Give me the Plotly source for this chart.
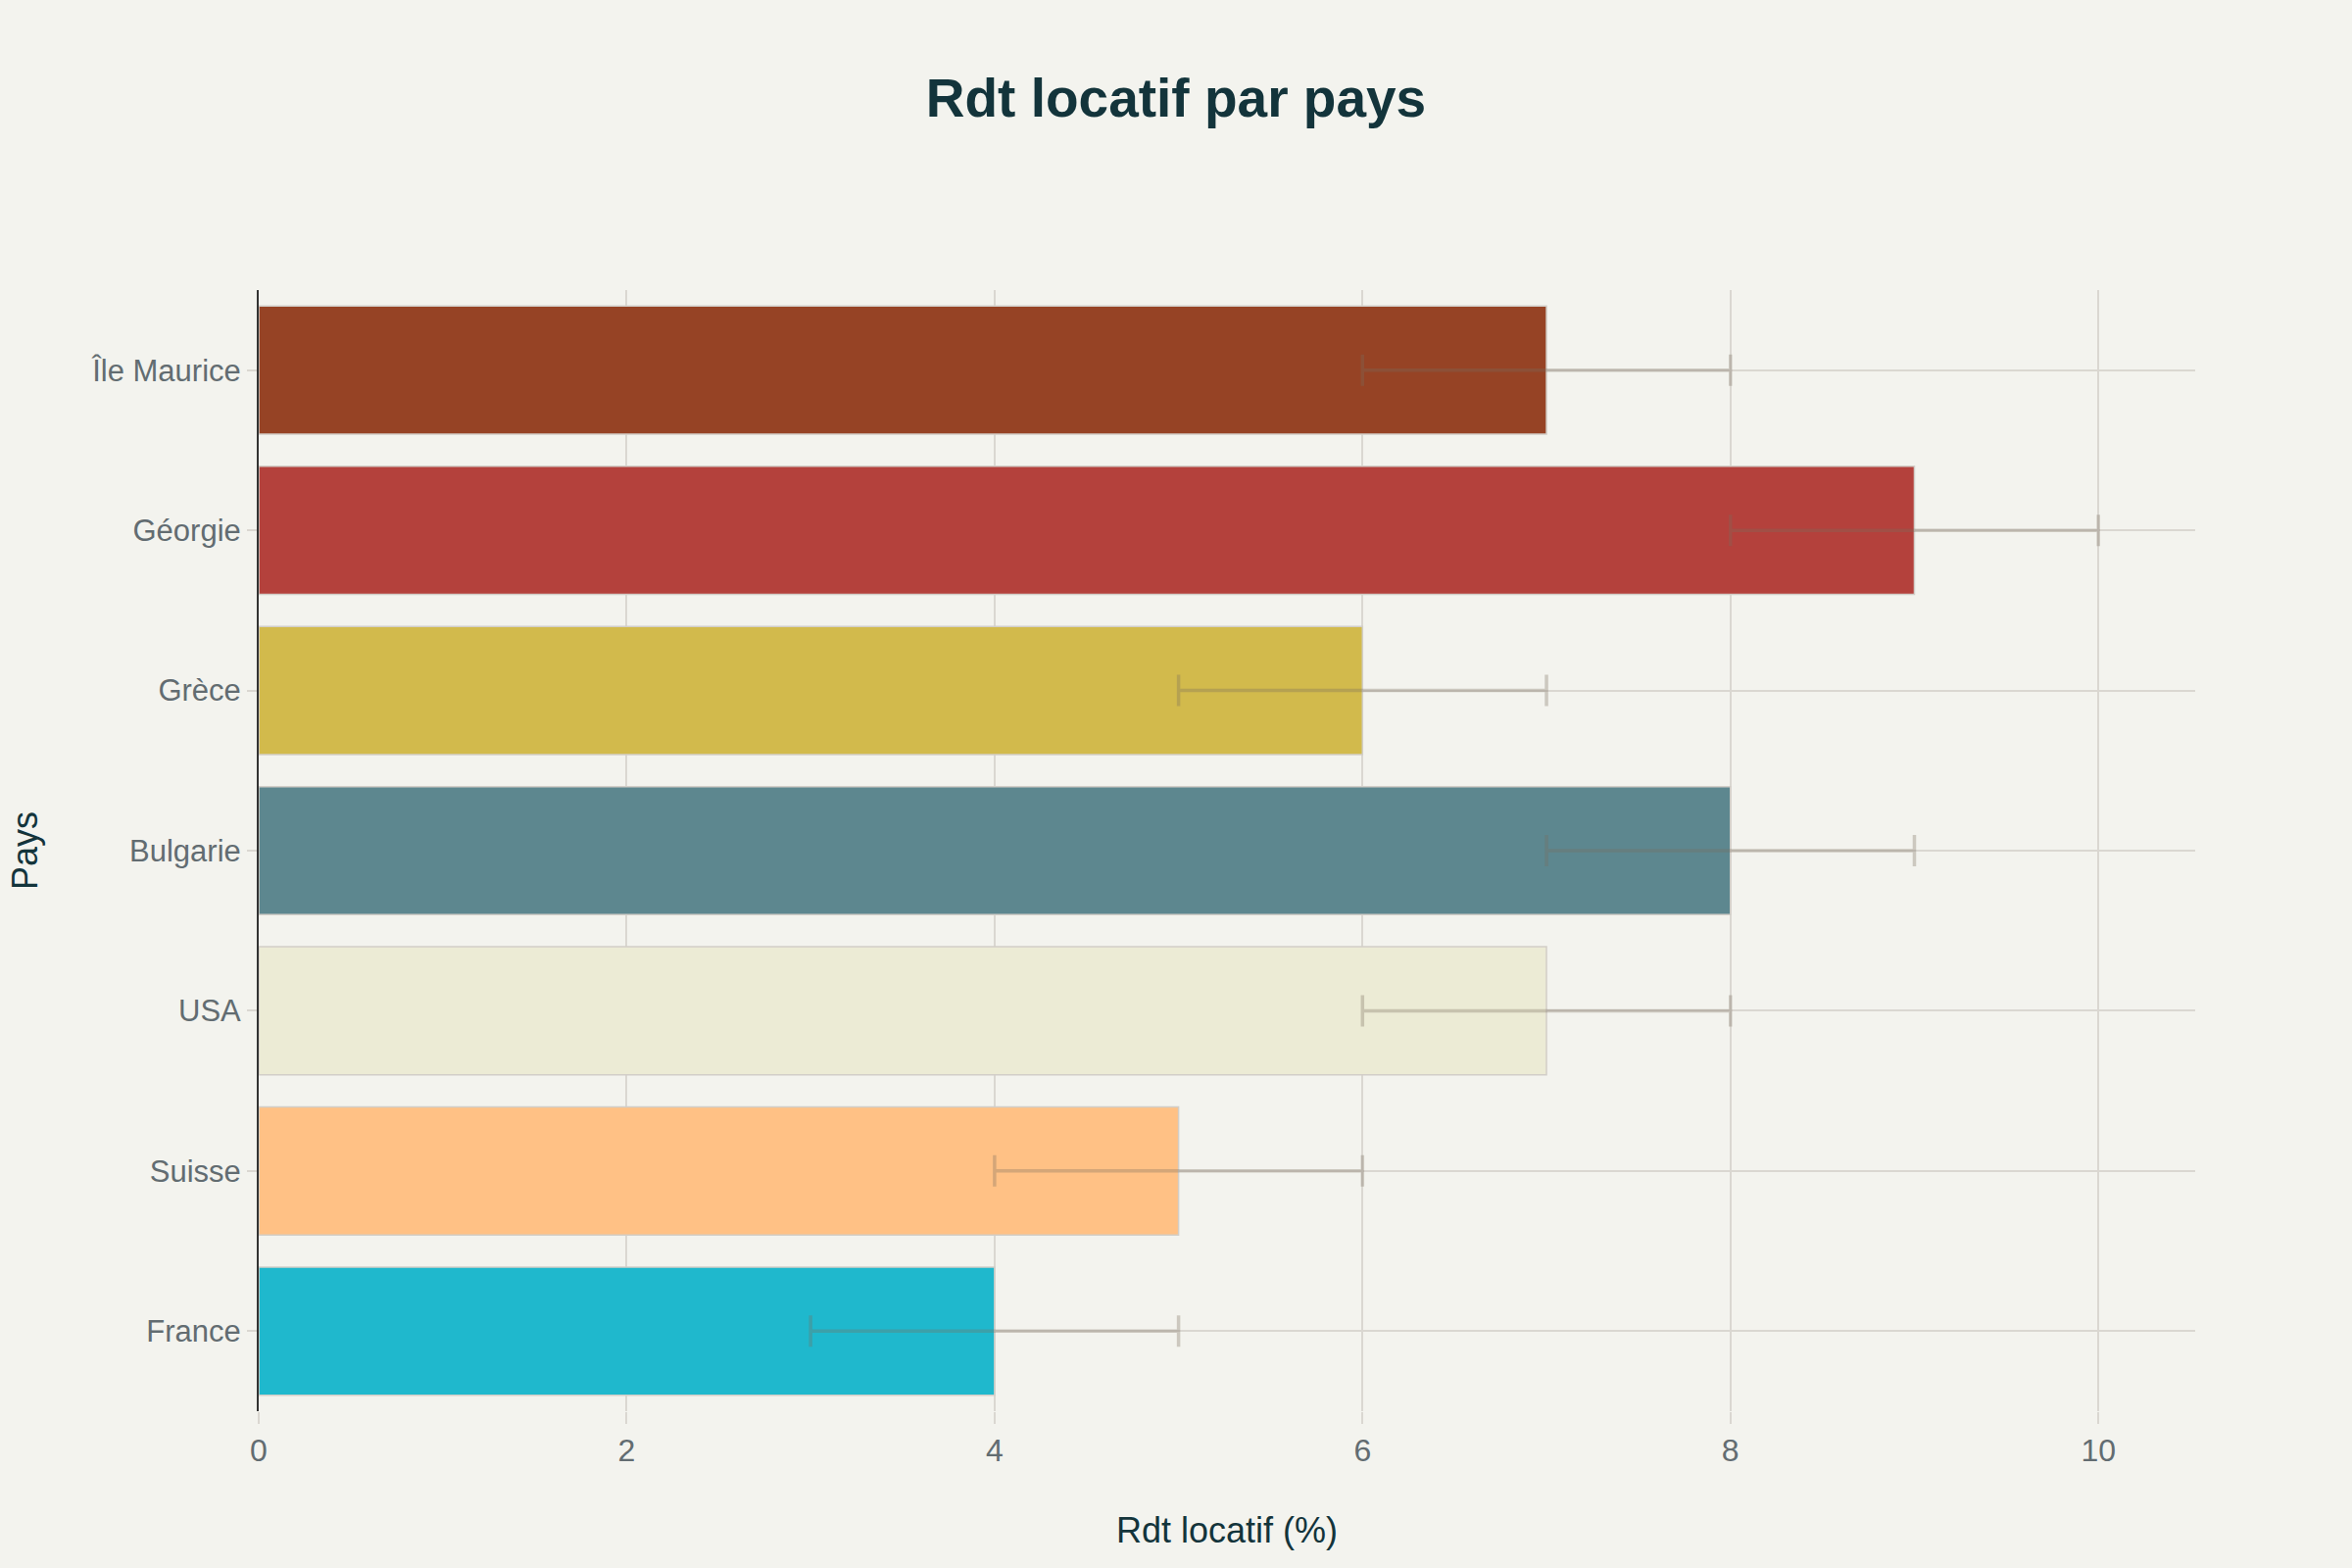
import plotly.graph_objects as go

# Rendement locatif (%) par pays, de bas en haut
pays = ["France", "Suisse", "USA", "Bulgarie", "Grèce", "Géorgie", "Île Maurice"]
rendement = [4, 5, 7, 8, 6, 9, 7]
marge = [1, 1, 1, 1, 1, 1, 1]
couleurs = ["#1FB8CD", "#FFC185", "#ECEBD5", "#5D878F", "#D2BA4C", "#B4413C", "#964325"]

BG = "#F3F3EE"
DARK = "#13343B"
GREY = "#626C71"
GRID = "#DAD7D1"

fig = go.Figure()
fig.add_trace(
    go.Bar(
        x=rendement,
        y=pays,
        orientation="h",
        marker={"color": couleurs, "line": {"color": "#D2CEC8", "width": 1.5}},
        error_x={
            "type": "data",
            "array": marge,
            "visible": True,
            "color": "rgba(120,108,92,0.32)",
            "thickness": 3.5,
            "width": 16,
        },
        showlegend=False,
        hoverinfo="x+y",
    )
)

fig.update_layout(
    title={
        "text": "<b>Rdt locatif par pays</b>",
        "x": 0.5,
        "xanchor": "center",
        "y": 0.9375,
        "yanchor": "middle",
        "font": {"size": 55, "color": DARK, "family": "Liberation Sans"},
    },
    font={"family": "Liberation Sans", "size": 32, "color": GREY},
    paper_bgcolor=BG,
    plot_bgcolor=BG,
    bargap=0.2,
    margin={"l": 264, "r": 160, "t": 296, "b": 160},
    xaxis={
        "title": {"text": "Rdt locatif (%)", "font": {"size": 36, "color": DARK}, "standoff": 51},
        "showgrid": True,
        "gridcolor": GRID,
        "gridwidth": 2,
        "zeroline": False,
        "ticks": "outside",
        "ticklen": 12,
        "tickcolor": GRID,
        "tickwidth": 2,
        "tickfont": {"size": 32, "color": GREY},
        "dtick": 2,
    },
    yaxis={
        "title": {"text": "Pays", "font": {"size": 36, "color": DARK}, "standoff": 44},
        "showgrid": True,
        "gridcolor": GRID,
        "gridwidth": 2,
        "showline": True,
        "linecolor": "#333333",
        "linewidth": 2,
        "ticks": "outside",
        "ticklen": 10,
        "tickcolor": GRID,
        "tickwidth": 2,
        "tickfont": {"size": 31, "color": GREY},
    },
)

# drop the page's default body margin so the figure fills the window
fix_page = (
    "document.body.style.margin='0';"
    "document.body.style.background='" + BG + "';"
    "Plotly.Plots.resize(document.getElementById('{plot_id}'));"
)
fig.write_html("out.html", post_script=fix_page, config={"displayModeBar": False})
